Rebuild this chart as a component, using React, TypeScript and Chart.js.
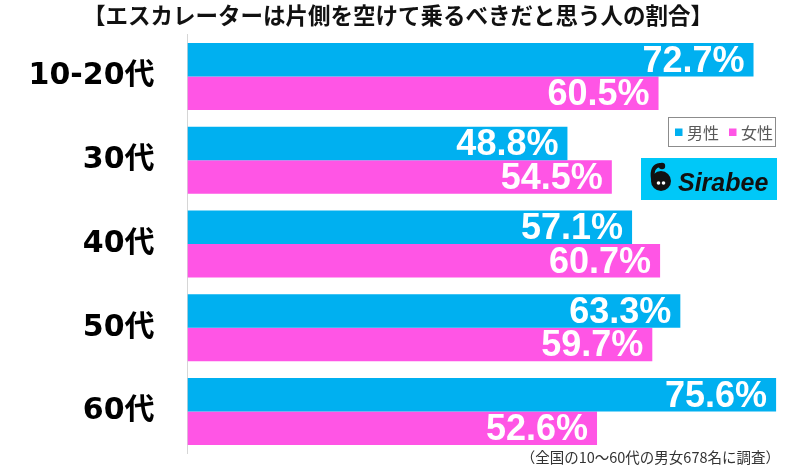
import React, { useEffect, useRef } from "react";
import { Chart, registerables } from "chart.js";

Chart.register(...registerables);

const titleText = "【エスカレーターは片側を空けて乗るべきだと思う人の割合】";
const footnoteText = "（全国の10～60代の男女678名に調査）";
const categories = ["10-20代", "30代", "40代", "50代", "60代"];
const seriesNames = ["男性", "女性"];
const maleValues = [72.7, 48.8, 57.1, 63.3, 75.6];
const femaleValues = [60.5, 54.5, 60.7, 59.7, 52.6];
const seriesColors = ["#00B0F0", "#FF55E5"];
const logoText = "Sirabee";

const CJK = "'Noto Sans CJK JP', sans-serif";

const overlayPlugin = {
  id: "overlay",
  afterDatasetsDraw(chart: any) {
    const ctx = chart.ctx;
    ctx.save();
    ctx.fillStyle = "#ffffff";
    ctx.font = "bold 36px 'Liberation Sans', Arial, sans-serif";
    ctx.textAlign = "right";
    ctx.textBaseline = "middle";
    chart.data.datasets.forEach((ds: any, di: number) => {
      const meta = chart.getDatasetMeta(di);
      meta.data.forEach((bar: any, i: number) => {
        const v = ds.data[i];
        ctx.fillText(v.toFixed(1) + "%", bar.x - 9, bar.y + 2);
      });
    });
    ctx.restore();
  },
  afterDraw(chart: any) {
    const ctx = chart.ctx;
    ctx.save();
    // title
    ctx.fillStyle = "#111111";
    ctx.font = "bold 22.5px " + CJK;
    ctx.textAlign = "center";
    ctx.textBaseline = "middle";
    ctx.fillText(titleText, 398, 15);

    // legend
    ctx.strokeStyle = "#8c8c8c";
    ctx.lineWidth = 1;
    ctx.strokeRect(668.5, 117.5, 107, 29);
    ctx.font = "16px " + CJK;
    ctx.textAlign = "left";
    ctx.textBaseline = "middle";
    let lx = 675;
    seriesNames.forEach((name, i) => {
      ctx.fillStyle = seriesColors[i];
      ctx.fillRect(lx, 128.5, 7.5, 7.5);
      ctx.fillStyle = "#595959";
      ctx.fillText(name, lx + 12, 132.5);
      lx += 54;
    });

    // logo
    ctx.fillStyle = "#00C8F8";
    ctx.fillRect(641, 158, 136, 42);
    ctx.fillStyle = "#111111";
    ctx.beginPath();
    ctx.arc(661, 181, 10, 0, Math.PI * 2);
    ctx.fill();
    ctx.strokeStyle = "#111111";
    ctx.lineWidth = 4;
    ctx.lineCap = "round";
    ctx.beginPath();
    ctx.moveTo(653, 179);
    ctx.quadraticCurveTo(651, 166, 660, 165);
    ctx.stroke();
    ctx.beginPath();
    ctx.arc(662, 166, 3.2, 0, Math.PI * 2);
    ctx.fill();
    ctx.fillStyle = "#ffffff";
    ctx.beginPath();
    ctx.arc(658.5, 183, 1.8, 0, Math.PI * 2);
    ctx.fill();
    ctx.beginPath();
    ctx.arc(663.5, 183, 1.8, 0, Math.PI * 2);
    ctx.fill();
    ctx.fillStyle = "#111111";
    ctx.font = "italic bold 25px 'Liberation Sans', Arial, sans-serif";
    ctx.textAlign = "left";
    ctx.textBaseline = "alphabetic";
    ctx.fillText(logoText, 678, 191);

    // footnote
    ctx.fillStyle = "#333333";
    ctx.font = "14.5px " + CJK;
    ctx.textAlign = "right";
    ctx.textBaseline = "alphabetic";
    ctx.fillText(footnoteText, 780, 463);
    ctx.restore();
  },
};

export default function App() {
  const ref = useRef<HTMLCanvasElement | null>(null);
  useEffect(() => {
    if (!ref.current) return;
    const chart = new Chart(ref.current, {
      type: "bar",
      data: {
        labels: categories,
        datasets: [
          {
            label: seriesNames[0],
            data: maleValues,
            backgroundColor: seriesColors[0],
            borderWidth: 0,
            categoryPercentage: 0.8,
            barPercentage: 1.0,
          },
          {
            label: seriesNames[1],
            data: femaleValues,
            backgroundColor: seriesColors[1],
            borderWidth: 0,
            categoryPercentage: 0.8,
            barPercentage: 1.0,
          },
        ],
      },
      options: {
        indexAxis: "y",
        responsive: false,
        animation: false,
        devicePixelRatio: 1,
        layout: { padding: { top: 34.5, bottom: 12.5, right: 13, left: 0 } },
        plugins: {
          legend: { display: false },
          title: { display: false },
          tooltip: { enabled: false },
        },
        scales: {
          x: {
            display: false,
            min: 0,
            max: 77,
          },
          y: {
            afterFit: (scale: any) => {
              scale.width = 187.5;
              scale.paddingTop = 0;
              scale.paddingBottom = 0;
            },
            grid: { display: false, drawTicks: false },
            border: { display: true, color: "#d6d6d6", width: 1 },
            ticks: {
              padding: 33,
              color: "#000000",
              font: {
                family: "'DejaVu Sans', 'Noto Sans CJK JP', sans-serif",
                size: 30,
                weight: "bold",
              },
            },
          },
        },
      },
      plugins: [overlayPlugin],
    } as any);
    return () => chart.destroy();
  }, []);
  return (
    <div style={{ position: "fixed", left: 0, top: 0, width: 800, height: 466, background: "#ffffff" }}>
      <canvas ref={ref} width={800} height={466} style={{ display: "block", width: 800, height: 466 }} />
    </div>
  );
}
